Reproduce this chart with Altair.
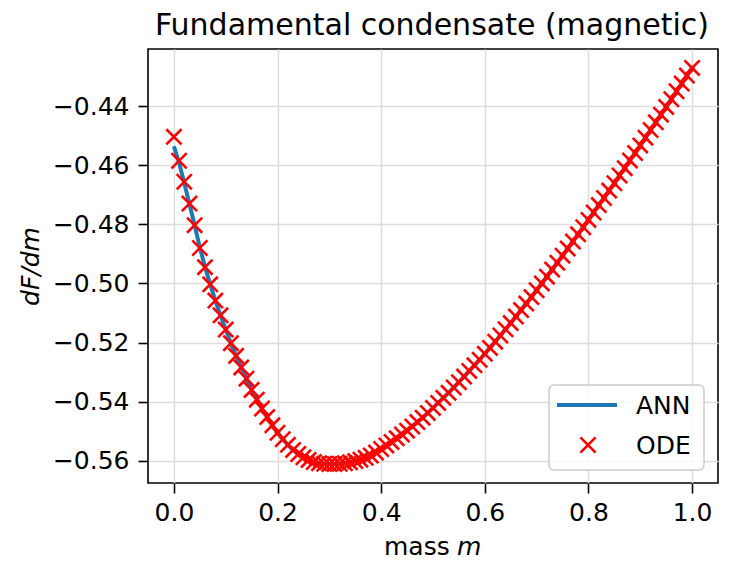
import altair as alt
import pandas as pd

# ---- data ----
mass = [0.00, 0.01, 0.02, 0.03, 0.04, 0.05, 0.06, 0.07, 0.08, 0.09,
        0.10, 0.11, 0.12, 0.13, 0.14, 0.15, 0.16, 0.17, 0.18, 0.19,
        0.20, 0.21, 0.22, 0.23, 0.24, 0.25, 0.26, 0.27, 0.28, 0.29,
        0.30, 0.31, 0.32, 0.33, 0.34, 0.35, 0.36, 0.37, 0.38, 0.39,
        0.40, 0.41, 0.42, 0.43, 0.44, 0.45, 0.46, 0.47, 0.48, 0.49,
        0.50, 0.51, 0.52, 0.53, 0.54, 0.55, 0.56, 0.57, 0.58, 0.59,
        0.60, 0.61, 0.62, 0.63, 0.64, 0.65, 0.66, 0.67, 0.68, 0.69,
        0.70, 0.71, 0.72, 0.73, 0.74, 0.75, 0.76, 0.77, 0.78, 0.79,
        0.80, 0.81, 0.82, 0.83, 0.84, 0.85, 0.86, 0.87, 0.88, 0.89,
        0.90, 0.91, 0.92, 0.93, 0.94, 0.95, 0.96, 0.97, 0.98, 0.99,
        1.00]

ode = [-0.4504, -0.4585, -0.4656, -0.4730, -0.4803, -0.4880, -0.4945, -0.5003, -0.5058, -0.5108,
       -0.5156, -0.5202, -0.5245, -0.5284, -0.5322, -0.5360, -0.5393, -0.5423, -0.5452, -0.5480,
       -0.5505, -0.5527, -0.5546, -0.5563, -0.5577, -0.5588, -0.5597, -0.5604, -0.5608, -0.5610,
       -0.5611, -0.5611, -0.5610, -0.5608, -0.5605, -0.5601, -0.5596, -0.5590, -0.5582, -0.5572,
       -0.5560, -0.5548, -0.5536, -0.5524, -0.5511, -0.5498, -0.5484, -0.5469, -0.5454, -0.5438,
       -0.5421, -0.5404, -0.5387, -0.5370, -0.5352, -0.5334, -0.5315, -0.5296, -0.5277, -0.5258,
       -0.5238, -0.5218, -0.5197, -0.5176, -0.5155, -0.5134, -0.5112, -0.5090, -0.5068, -0.5046,
       -0.5023, -0.5000, -0.4977, -0.4953, -0.4930, -0.4906, -0.4882, -0.4858, -0.4834, -0.4810,
       -0.4785, -0.4760, -0.4735, -0.4711, -0.4686, -0.4661, -0.4635, -0.4610, -0.4584, -0.4559,
       -0.4533, -0.4507, -0.4481, -0.4455, -0.4429, -0.4403, -0.4377, -0.4350, -0.4324, -0.4297,
       -0.4271]

ann = [-0.4536, -0.4592, -0.4660, -0.4731, -0.4803, -0.4878, -0.4944, -0.5003, -0.5058, -0.5108,
       -0.5156, -0.5202, -0.5245, -0.5284, -0.5322, -0.5359, -0.5392, -0.5423, -0.5452, -0.5479,
       -0.5504, -0.5526, -0.5546, -0.5563, -0.5577, -0.5588, -0.5597, -0.5604, -0.5608, -0.5610,
       -0.5611, -0.5611, -0.5610, -0.5608, -0.5605, -0.5601, -0.5596, -0.5590, -0.5582, -0.5572,
       -0.5560, -0.5548, -0.5536, -0.5524, -0.5511, -0.5498, -0.5484, -0.5469, -0.5454, -0.5438,
       -0.5421, -0.5404, -0.5387, -0.5370, -0.5352, -0.5334, -0.5315, -0.5296, -0.5277, -0.5258,
       -0.5238, -0.5218, -0.5197, -0.5176, -0.5155, -0.5134, -0.5112, -0.5090, -0.5068, -0.5046,
       -0.5023, -0.5000, -0.4977, -0.4953, -0.4930, -0.4906, -0.4882, -0.4858, -0.4834, -0.4810,
       -0.4785, -0.4760, -0.4735, -0.4711, -0.4686, -0.4661, -0.4635, -0.4610, -0.4584, -0.4559,
       -0.4533, -0.4507, -0.4481, -0.4455, -0.4429, -0.4403, -0.4377, -0.4350, -0.4324, -0.4297,
       -0.4271]

x_ticks = [0.0, 0.2, 0.4, 0.6, 0.8, 1.0]
y_ticks = [-0.56, -0.54, -0.52, -0.50, -0.48, -0.46, -0.44]
legend_labels = ["ANN", "ODE"]
title_text = "Fundamental condensate (magnetic)"

df = pd.DataFrame({"m": mass, "ode": ode, "ann": ann})

FONT = "DejaVu Sans"
W, H = 570, 434
BLUE = "#1f77b4"
XSHAPE = "M-1,-1L1,1M-1,1L1,-1"

xscale = alt.Scale(domain=[-0.05, 1.05], nice=False, zero=False)
yscale = alt.Scale(domain=[-0.5675, -0.4207], nice=False, zero=False)

xaxis = alt.Axis(values=x_ticks, format=".1f", title=None, labelPadding=7)
yaxis = alt.Axis(values=y_ticks, format=".2f", title="dF/dm",
                 titleFont=FONT, titleFontSize=25, titleFontStyle="italic",
                 titleFontWeight="normal", titleColor="black",
                 titleAngle=270, titleAlign="center", titleBaseline="middle",
                 titleX=-118, titleY=H / 2, labelPadding=9)

base = alt.Chart(df)

ann_line = base.mark_line(color=BLUE, strokeWidth=4, clip=False).encode(
    x=alt.X("m:Q", scale=xscale, axis=xaxis),
    y=alt.Y("ann:Q", scale=yscale, axis=yaxis),
)

ode_pts = base.mark_point(shape=XSHAPE, filled=False, color="red", size=230,
                          strokeWidth=2.6, opacity=1).encode(
    x=alt.X("m:Q", scale=xscale, axis=xaxis),
    y=alt.Y("ode:Q", scale=yscale, axis=yaxis),
)

one = pd.DataFrame({"a": [0]})

# title as a text mark
title_mark = alt.Chart(one).mark_text(text=title_text, font=FONT, fontSize=30,
                                      color="black", align="center",
                                      baseline="alphabetic").encode(
    x=alt.value(W / 2 - 1), y=alt.value(-14))

# x-axis title: "mass" regular + "m" italic
xt1 = alt.Chart(one).mark_text(text="mass", font=FONT, fontSize=25, color="black",
                               align="left", baseline="alphabetic").encode(
    x=alt.value(236), y=alt.value(506))
xt2 = alt.Chart(one).mark_text(text="m", font=FONT, fontSize=25, color="black",
                               fontStyle="italic", align="left",
                               baseline="alphabetic").encode(
    x=alt.value(309), y=alt.value(506))

# legend
leg_box = alt.Chart(one).mark_rect(fill="white", fillOpacity=0.8, stroke="#cccccc",
                                   strokeWidth=1.5, cornerRadius=5).encode(
    x=alt.value(401), x2=alt.value(556), y=alt.value(336), y2=alt.value(421))
leg_line = alt.Chart(one).mark_rule(color=BLUE, strokeWidth=4).encode(
    x=alt.value(409), x2=alt.value(469), y=alt.value(356))
leg_pt = alt.Chart(one).mark_point(shape=XSHAPE, filled=False, color="red", size=230,
                                   strokeWidth=2.6, opacity=1).encode(
    x=alt.value(440), y=alt.value(396))
leg_t1 = alt.Chart(one).mark_text(text=legend_labels[0], font=FONT, fontSize=25,
                                  color="black", align="left", baseline="middle").encode(
    x=alt.value(488), y=alt.value(357))
leg_t2 = alt.Chart(one).mark_text(text=legend_labels[1], font=FONT, fontSize=25,
                                  color="black", align="left", baseline="middle").encode(
    x=alt.value(488), y=alt.value(397))

chart = alt.layer(
    ann_line, ode_pts, title_mark, xt1, xt2, leg_box, leg_line, leg_pt, leg_t1, leg_t2
).properties(
    width=W, height=H,
    padding={"left": 140, "top": 41, "right": 5, "bottom": 79},
    autosize=alt.AutoSizeParams(type="none"),
).configure_view(
    stroke="black", strokeWidth=1.6
).configure_axis(
    grid=True, gridColor="#dddddd", gridWidth=1.5, domain=False,
    ticks=True, tickColor="black", tickSize=10, tickWidth=1.6,
    labelFont=FONT, labelFontSize=25, labelColor="black",
)

chart.save("out.html", embed_options={"renderer": "svg", "actions": False})
